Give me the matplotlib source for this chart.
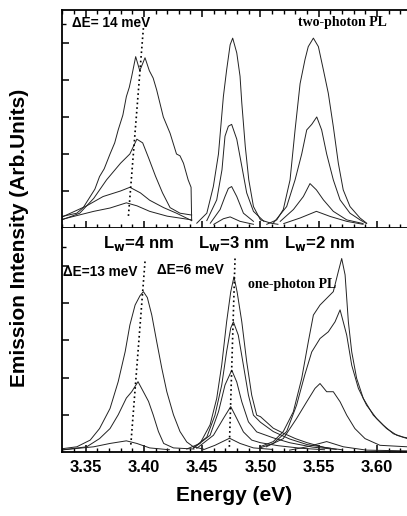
import matplotlib
matplotlib.use("Agg")
import matplotlib.pyplot as plt
from matplotlib.ticker import MultipleLocator, FixedLocator

# ---------------- data ----------------
# Top panel: two-photon PL
t4a_E = [3.328, 3.3425, 3.348, 3.354, 3.358, 3.362, 3.366, 3.371, 3.375, 3.378, 3.382, 3.385, 3.3875, 3.3896, 3.393, 3.3965, 3.401, 3.4047, 3.408, 3.411, 3.4167, 3.4225, 3.428, 3.431, 3.434, 3.438, 3.4405, 3.441]
t4a_I = [0.30, 0.40, 0.55, 0.85, 1.05, 1.39, 1.60, 2.00, 2.30, 2.65, 3.05, 3.55, 3.80, 4.10, 4.63, 4.25, 4.60, 4.25, 4.05, 3.73, 3.00, 2.56, 2.00, 1.95, 1.75, 1.30, 1.10, 0.20]
t4b_E = [3.328, 3.345, 3.357, 3.368, 3.380, 3.388, 3.394, 3.399, 3.404, 3.410, 3.416, 3.4225, 3.431, 3.441]
t4b_I = [0.20, 0.40, 0.80, 1.30, 1.75, 2.00, 2.40, 2.30, 1.90, 1.40, 0.95, 0.55, 0.40, 0.35]
t4c_E = [3.328, 3.351, 3.365, 3.380, 3.388, 3.397, 3.405, 3.417, 3.428, 3.441]
t4c_I = [0.27, 0.60, 0.85, 1.00, 1.10, 0.95, 0.75, 0.55, 0.40, 0.20]
t4d_E = [3.328, 3.357, 3.371, 3.385, 3.394, 3.405, 3.420, 3.441]
t4d_I = [0.22, 0.45, 0.54, 0.68, 0.60, 0.45, 0.32, 0.22]

t3a_E = [3.4454, 3.454, 3.4596, 3.464, 3.4682, 3.471, 3.474, 3.4762, 3.4797, 3.4825, 3.484, 3.487, 3.490, 3.494, 3.500, 3.509, 3.515]
t3a_I = [0.13, 0.40, 1.12, 2.00, 3.55, 4.27, 4.95, 5.13, 4.73, 4.10, 3.38, 2.20, 1.30, 0.58, 0.22, 0.13, 0.10]
t3b_E = [3.454, 3.4625, 3.467, 3.4696, 3.4725, 3.4753, 3.4797, 3.484, 3.4882, 3.494, 3.503]
t3b_I = [0.20, 0.76, 1.57, 2.48, 2.75, 2.80, 2.40, 1.67, 0.95, 0.45, 0.18]
t3c_E = [3.457, 3.4654, 3.4696, 3.4725, 3.4753, 3.4797, 3.4854, 3.494]
t3c_I = [0.13, 0.50, 0.85, 1.07, 1.12, 0.85, 0.40, 0.18]
t3d_E = [3.460, 3.4682, 3.474, 3.4825, 3.494]
t3d_I = [0.10, 0.25, 0.30, 0.18, 0.10]

t2a_E = [3.5054, 3.514, 3.5196, 3.5254, 3.5297, 3.534, 3.5382, 3.541, 3.5454, 3.5497, 3.554, 3.5582, 3.5625, 3.5668, 3.571, 3.5768, 3.5854, 3.5911]
t2a_I = [0.10, 0.22, 0.50, 1.30, 2.65, 3.90, 4.55, 4.90, 5.13, 4.90, 4.27, 3.64, 2.74, 1.75, 1.03, 0.58, 0.27, 0.13]
t2b_E = [3.511, 3.5225, 3.5297, 3.5354, 3.5397, 3.544, 3.5483, 3.5525, 3.5568, 3.5625, 3.5683, 3.5768, 3.5854, 3.591]
t2b_I = [0.13, 0.58, 1.30, 2.00, 2.65, 2.80, 3.00, 2.65, 2.00, 1.30, 0.76, 0.40, 0.22, 0.12]
t2c_E = [3.517, 3.5283, 3.5368, 3.5425, 3.548, 3.554, 3.5625, 3.574, 3.588]
t2c_I = [0.18, 0.50, 0.85, 1.20, 1.03, 0.76, 0.45, 0.22, 0.12]
t2d_E = [3.520, 3.534, 3.548, 3.560, 3.574, 3.588]
t2d_I = [0.12, 0.27, 0.45, 0.31, 0.18, 0.10]

# Bottom panel: one-photon PL
b4a_E = [3.328, 3.3425, 3.354, 3.362, 3.371, 3.378, 3.384, 3.388, 3.3925, 3.3967, 3.3996, 3.403, 3.4068, 3.411, 3.4154, 3.4197, 3.4254, 3.431, 3.4368, 3.4425, 3.451]
b4a_I = [0.08, 0.14, 0.32, 0.63, 1.17, 1.89, 2.70, 3.41, 3.95, 4.20, 4.31, 4.15, 3.68, 2.97, 2.25, 1.62, 1.00, 0.55, 0.27, 0.14, 0.08]
b4b_E = [3.328, 3.351, 3.362, 3.371, 3.378, 3.385, 3.3896, 3.395, 3.3996, 3.404, 3.408, 3.4125, 3.417, 3.4254, 3.443]
b4b_I = [0.05, 0.14, 0.36, 0.63, 1.00, 1.45, 1.62, 1.89, 1.62, 1.36, 1.00, 0.55, 0.23, 0.11, 0.08]
b4c_E = [3.328, 3.357, 3.371, 3.385, 3.394, 3.405, 3.422]
b4c_I = [0.05, 0.14, 0.23, 0.30, 0.23, 0.11, 0.06]

b3a_E = [3.4368, 3.4482, 3.4568, 3.4625, 3.4668, 3.471, 3.4745, 3.4773, 3.480, 3.484, 3.4882, 3.4925, 3.4968, 3.500, 3.511, 3.520, 3.530, 3.540, 3.555, 3.570]
b3a_I = [0.08, 0.23, 0.73, 1.44, 2.34, 3.50, 4.30, 4.71, 4.30, 3.50, 2.43, 1.53, 0.99, 0.95, 0.64, 0.50, 0.36, 0.25, 0.12, 0.06]
b3b_E = [3.4425, 3.454, 3.461, 3.4668, 3.471, 3.4745, 3.4768, 3.481, 3.4854, 3.4897, 3.494, 3.500, 3.511, 3.525, 3.540, 3.560]
b3b_I = [0.11, 0.40, 0.99, 1.80, 2.70, 3.33, 3.50, 3.14, 2.33, 1.53, 0.99, 0.80, 0.55, 0.35, 0.20, 0.10]
b3c_E = [3.4425, 3.4568, 3.464, 3.4696, 3.4754, 3.4797, 3.484, 3.4897, 3.4968, 3.511, 3.525, 3.545, 3.565]
b3c_I = [0.10, 0.45, 1.08, 1.80, 2.20, 1.88, 1.35, 0.81, 0.54, 0.38, 0.25, 0.13, 0.07]
b3d_E = [3.4454, 3.4597, 3.4682, 3.4745, 3.4797, 3.4854, 3.4925, 3.500, 3.515, 3.535, 3.555]
b3d_I = [0.10, 0.45, 0.90, 1.22, 0.90, 0.54, 0.32, 0.25, 0.17, 0.10, 0.06]
b3e_E = [3.451, 3.461, 3.4735, 3.4825, 3.494, 3.510]
b3e_I = [0.06, 0.18, 0.37, 0.23, 0.11, 0.07]

b2a_E = [3.4996, 3.511, 3.5196, 3.5282, 3.5354, 3.5411, 3.5454, 3.5511, 3.5568, 3.5625, 3.5668, 3.5697, 3.5726, 3.5754, 3.5783, 3.5825, 3.5882, 3.5968, 3.6054, 3.614, 3.6225, 3.626]
b2a_I = [0.14, 0.28, 0.55, 1.08, 1.98, 2.97, 3.68, 3.95, 4.13, 4.31, 4.85, 5.20, 4.76, 3.50, 2.69, 1.98, 1.44, 0.99, 0.72, 0.49, 0.40, 0.38]
b2b_E = [3.4996, 3.511, 3.5225, 3.531, 3.538, 3.544, 3.5511, 3.5582, 3.564, 3.5683, 3.571, 3.574, 3.5783, 3.584, 3.591, 3.5996, 3.6082, 3.617, 3.626]
b2b_I = [0.11, 0.23, 0.55, 1.26, 2.07, 2.69, 3.05, 3.23, 3.50, 3.82, 3.50, 3.14, 2.33, 1.71, 1.26, 0.90, 0.63, 0.45, 0.36]
b2c_E = [3.505, 3.5196, 3.531, 3.5397, 3.5468, 3.5511, 3.5568, 3.5625, 3.5683, 3.574, 3.581, 3.5897, 3.6025, 3.626]
b2c_I = [0.14, 0.36, 0.90, 1.35, 1.71, 1.84, 1.62, 1.62, 1.35, 0.99, 0.63, 0.36, 0.18, 0.14]
b2d_E = [3.525, 3.540, 3.5568, 3.5711, 3.591, 3.626]
b2d_I = [0.05, 0.14, 0.28, 0.14, 0.05, 0.03]

# Dotted guide lines (peak shifts)
top_dot_E = [3.3996, 3.3867]
top_dot_I = [5.40, 0.30]
bot4_dot_E = [3.4010, 3.3888]
bot4_dot_I = [5.12, 0.19]
bot3_dot_E = [3.4782, 3.4733]
bot3_dot_I = [5.20, 0.10]

# Texts
xticks = [3.35, 3.40, 3.45, 3.50, 3.55, 3.60]
xtick_labels = ["3.35", "3.40", "3.45", "3.50", "3.55", "3.60"]
well_labels = ["4", "3", "2"]
well_label_E = [3.3955, 3.4770, 3.5505]

# ---------------- figure ----------------
W, H = 407, 516
fig = plt.figure(figsize=(W / 100, H / 100), dpi=100)
sans = ["Liberation Sans", "DejaVu Sans"]
serif = ["Liberation Serif", "DejaVu Serif"]

xl = (3.3298, 3.6257)
ax_top = fig.add_axes([62 / W, (H - 228) / H, 345 / W, 218 / H])
ax_bot = fig.add_axes([62 / W, (H - 452) / H, 345 / W, 224 / H])

lc = "#222222"
lw = 0.7

for E, I in [(t4a_E, t4a_I), (t4b_E, t4b_I), (t4c_E, t4c_I), (t4d_E, t4d_I),
             (t3a_E, t3a_I), (t3b_E, t3b_I), (t3c_E, t3c_I), (t3d_E, t3d_I),
             (t2a_E, t2a_I), (t2b_E, t2b_I), (t2c_E, t2c_I), (t2d_E, t2d_I)]:
    ax_top.plot(E, I, color=lc, lw=lw)
ax_top.plot(top_dot_E, top_dot_I, color="black", lw=1.2, ls=(0, (1, 1.8)))

for E, I in [(b4a_E, b4a_I), (b4b_E, b4b_I), (b4c_E, b4c_I),
             (b3a_E, b3a_I), (b3b_E, b3b_I), (b3c_E, b3c_I), (b3d_E, b3d_I), (b3e_E, b3e_I),
             (b2a_E, b2a_I), (b2b_E, b2b_I), (b2c_E, b2c_I), (b2d_E, b2d_I)]:
    ax_bot.plot(E, I, color=lc, lw=lw)
ax_bot.plot(bot4_dot_E, bot4_dot_I, color="black", lw=1.2, ls=(0, (1, 1.8)))
ax_bot.plot(bot3_dot_E, bot3_dot_I, color="black", lw=1.2, ls=(0, (1, 1.8)))

ax_top.set_xlim(*xl)
ax_bot.set_xlim(*xl)
ax_top.set_ylim(0, 5.89)
ax_bot.set_ylim(0, 6.02)

for ax in (ax_top, ax_bot):
    ax.spines["right"].set_visible(False)
    for s in ax.spines.values():
        s.set_linewidth(1.3)
    ax.xaxis.set_major_locator(FixedLocator(xticks))
    ax.xaxis.set_minor_locator(MultipleLocator(0.01))
    ax.yaxis.set_major_locator(MultipleLocator(1))
    ax.yaxis.set_minor_locator(FixedLocator([5.5]))
    ax.tick_params(which="both", direction="in", left=True, right=False, labelleft=False)
    ax.tick_params(which="major", length=5, width=1.1)
    ax.tick_params(which="minor", length=3, width=1.0)
    ax.set_yticks([v for v in range(1, 6)])

ax_top.tick_params(which="both", top=True, bottom=True, labelbottom=False)
ax_bot.spines["top"].set_visible(False)
ax_bot.tick_params(which="both", top=False, bottom=True)
ax_bot.set_xticklabels(xtick_labels, fontfamily=sans, fontweight="bold", fontsize=12)
ax_bot.tick_params(axis="x", which="major", pad=6)

ax_bot.set_xlabel("Energy (eV)", fontfamily=sans, fontweight="bold", fontsize=15, labelpad=8)
fig.text(20 / W, 1 - 238 / H, "Emission Intensity (Arb.Units)", rotation=90,
         ha="center", va="center", fontfamily=sans, fontweight="bold", fontsize=15)

# annotations top
ax_top.text(3.3385, 5.55, "\u0394E= 14 meV", fontfamily=sans, fontweight="bold", fontsize=9.8, va="center", ha="left")
ax_top.text(3.5700, 5.55, "two-photon PL", fontfamily=serif, fontweight="bold", fontsize=10, va="center", ha="center")

# annotations bottom
for lab, E in zip(well_labels, well_label_E):
    ax_bot.text(E, 5.6, "L$_\\mathbf{w}$=" + lab + " nm", fontfamily=sans, fontweight="bold",
                fontsize=12, va="center", ha="center")
ax_bot.text(3.3305, 4.85, "\u0394E=13 meV", fontfamily=sans, fontweight="bold", fontsize=9.8, va="center", ha="left")
ax_bot.text(3.4110, 4.90, "\u0394E=6 meV", fontfamily=sans, fontweight="bold", fontsize=9.8, va="center", ha="left")
ax_bot.text(3.5270, 4.50, "one-photon PL", fontfamily=serif, fontweight="bold", fontsize=10, va="center", ha="center")

fig.savefig("out.png", dpi=100)
